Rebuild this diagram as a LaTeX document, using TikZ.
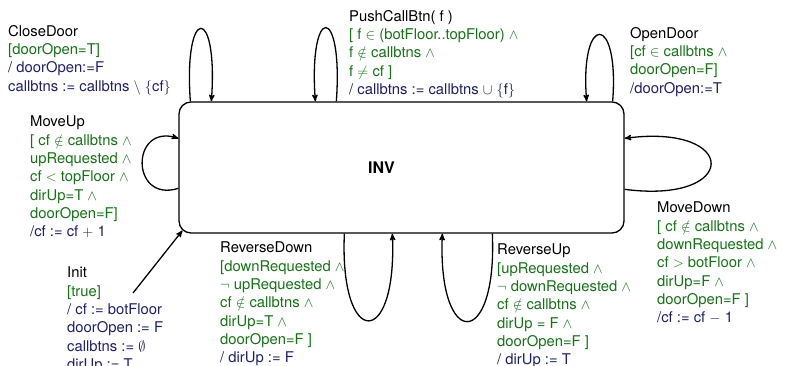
\documentclass[tikz,border=0pt]{standalone}
\usepackage{fontspec}
\setmainfont{TeX Gyre Heros}
\usepackage{tikz}
\usetikzlibrary{arrows}
\usepackage{amsmath}
\usepackage{color}

\definecolor{grdgreen}{RGB}{20,115,20}
\definecolor{actblue}{RGB}{30,30,110}
\newcommand{\grd}[1]{\textcolor{grdgreen}{#1}}
\newcommand{\act}[1]{\textcolor{actblue}{#1}}

\tikzset{
  statebox/.style={draw, rounded corners=12pt, minimum width=445pt, minimum height=131pt, line width=1.3pt},
  trans/.style={align=left, anchor=north west, inner sep=0pt, font=\fontsize{14.8}{18.3}\selectfont},
  loopline/.style={->, line width=1.3pt},
}

\begin{document}
\begin{tikzpicture}[x=1pt,y=1pt,>=stealth']
       \useasboundingbox (0,0) rectangle (790,366);
       \node[statebox,label={[font=\fontsize{16}{18}\selectfont\bfseries,xshift=-20pt]center:INV}] (inv) at (401.5,198.5) {};

       % transition labels
       \node[trans] (CloseDoor) at (8,341) {CloseDoor\\
              \grd{[doorOpen=T]}\\
              \act{/ doorOpen:=F}\\
              \act{callbtns := callbtns $\setminus$ $\{$cf$\}$}};
       \node[trans] (PushCallBtn) at (349,356) {PushCallBtn( f )\\
              \grd{[ f $\in$ (botFloor..topFloor) $\wedge$}\\
              \grd{f $\notin$ callbtns $\wedge$}\\
              \grd{f $\neq$ cf ]}\\
              \act{/ callbtns := callbtns $\cup$ $\{$f$\}$}};
       \node[trans] (OpenDoor) at (630,339) {OpenDoor\\
              \grd{[cf $\in$ callbtns $\wedge$}\\
              \grd{doorOpen=F]}\\
              \act{/doorOpen:=T}};
       \node[trans] (MoveUp) at (30,250) {MoveUp\\
              \grd{[ cf $\notin$ callbtns $\wedge$}\\
              \grd{upRequested $\wedge$}\\
              \grd{cf $<$ topFloor $\wedge$}\\
              \grd{dirUp=T $\wedge$}\\
              \grd{doorOpen=F]}\\
              \act{/cf := cf $+$ 1}};
       \node[trans] (MoveDown) at (657,164) {MoveDown\\
              \grd{[ cf $\notin$ callbtns $\wedge$}\\
              \grd{downRequested $\wedge$}\\
              \grd{cf $>$ botFloor $\wedge$}\\
              \grd{dirUp=F $\wedge$}\\
              \grd{doorOpen=F ]}\\
              \act{/cf := cf $-$ 1}};
       \node[trans] (Init) at (67,99) {Init\\
              \grd{[true]}\\
              \act{/ cf := botFloor}\\
              \act{doorOpen := F}\\
              \act{callbtns := $\emptyset$}\\
              \act{dirUp := T}};
       \node[trans] (ReverseDown) at (220,124) {ReverseDown\\
              \grd{[downRequested $\wedge$}\\
              \grd{$\neg$ upRequested $\wedge$}\\
              \grd{cf $\notin$ callbtns $\wedge$}\\
              \grd{dirUp=T $\wedge$}\\
              \grd{doorOpen=F ]}\\
              \act{/ dirUp := F}};
       \node[trans] (ReverseUp) at (497,122) {ReverseUp\\
              \grd{[upRequested $\wedge$}\\
              \grd{$\neg$ downRequested $\wedge$}\\
              \grd{cf $\notin$ callbtns $\wedge$}\\
              \grd{dirUp = F $\wedge$}\\
              \grd{doorOpen=F ]}\\
              \act{/ dirUp := T}};

       % self loops
       \draw[loopline] ([xshift=12pt]inv.north west) .. controls +(-7,97) and +(7,97) .. ([xshift=33pt]inv.north west);
       \draw[loopline] ([xshift=158pt]inv.north west) .. controls +(7,98) and +(-7,98) .. ([xshift=137pt]inv.north west);
       \draw[loopline] ([xshift=-12pt]inv.north east) .. controls +(7,89) and +(-7,89) .. ([xshift=-38pt]inv.north east);
       \draw[loopline] ([yshift=-87pt]inv.north west) .. controls +(-48,-15) and +(-48,15) .. ([yshift=-37pt]inv.north west);
       \draw[loopline] ([yshift=-88pt]inv.north east) .. controls +(115,-15) and +(115,15) .. ([yshift=-37pt]inv.north east);
       \draw[loopline] ([xshift=166pt]inv.south west) .. controls +(-5,-116) and +(5,-116) .. ([xshift=214pt]inv.south west);
       \draw[loopline] ([xshift=314pt]inv.south west) .. controls +(5,-117) and +(-5,-117) .. ([xshift=264pt]inv.south west);

       % initial transition
       \coordinate (initfrom) at (133,73);
       \draw[loopline] (initfrom) -- ([xshift=4pt,yshift=3pt]inv.south west);
\end{tikzpicture}
\end{document}
